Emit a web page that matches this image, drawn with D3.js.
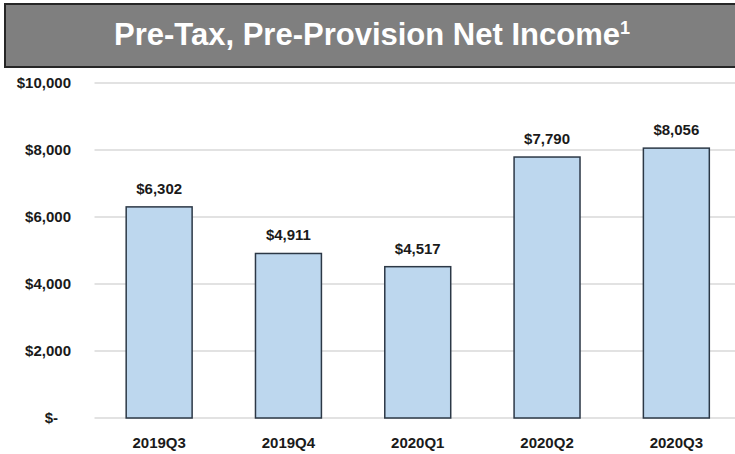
<!DOCTYPE html>
<html>
<head>
<meta charset="utf-8">
<script src="https://cdn.jsdelivr.net/npm/d3@7"></script>
<style>
  body { margin: 0; background: #fff; }
  svg { display: block; font-family: 'Liberation Sans', Arial, sans-serif; }
  .title { fill: #fff; font-size: 31px; font-weight: bold; }
  .tick-text { fill: #1a1a1a; font-size: 15px; font-weight: bold; }
  .value-text { fill: #1a1a1a; font-size: 15px; font-weight: bold; }
  .cat-text { fill: #1a1a1a; font-size: 15px; font-weight: bold; }
  .grid-line { stroke: #d9d9d9; stroke-width: 1.5; }
  .bar { fill: #bdd7ee; stroke: #2c3846; stroke-width: 1.5; }
</style>
</head>
<body>
<svg id="chart"></svg>
<script>
'use strict';

//data
const quarters = ['2019Q3', '2019Q4', '2020Q1', '2020Q2', '2020Q3'];
const income = [6302, 4911, 4517, 7790, 8056];
const yTicks = [0, 2000, 4000, 6000, 8000, 10000];

(() => {

  //dimensions
  const w = 735;
  const h = 454;
  const plot = { left: 94.5, right: 741, top: 83, bottom: 418 };

  const svg = d3.select('#chart')
    .attr('width', w)
    .attr('height', h);

  //title banner
  svg.append('rect')
    .attr('x', 5)
    .attr('y', 4)
    .attr('width', w + 10)
    .attr('height', 63)
    .attr('fill', '#7f7f7f')
    .attr('stroke', '#262626')
    .attr('stroke-width', 2);
  const title = svg.append('text')
    .attr('x', 372)
    .attr('y', 45)
    .attr('text-anchor', 'middle')
    .attr('class', 'title');
  title.append('tspan').text('Pre-Tax, Pre-Provision Net Income');
  title.append('tspan')
    .attr('dy', -11)
    .attr('font-size', '18px')
    .text('1');

  //scales
  const x = d3.scaleBand()
    .domain(quarters)
    .range([plot.left, plot.right])
    .paddingInner(0.49)
    .paddingOuter(0.245);
  const y = d3.scaleLinear()
    .domain([0, 10000])
    .range([plot.bottom, plot.top]);

  const money = (v) => v === 0 ? '$-' : '$' + d3.format(',')(v);

  //gridlines + y labels
  svg.append('g')
    .selectAll('line')
    .data(yTicks)
    .join('line')
    .attr('x1', plot.left)
    .attr('x2', w)
    .attr('y1', (d) => y(d))
    .attr('y2', (d) => y(d))
    .attr('class', 'grid-line');
  svg.append('g')
    .selectAll('text')
    .data(yTicks)
    .join('text')
    .attr('x', (d) => d === 0 ? 58 : 71)
    .attr('y', (d) => y(d))
    .attr('dy', '0.36em')
    .attr('text-anchor', 'end')
    .text(money)
    .attr('class', 'tick-text');

  //bars
  const bars = svg.append('g')
    .selectAll('g')
    .data(quarters.map((q, i) => ({ q, v: income[i] })))
    .join('g');
  bars.append('rect')
    .attr('x', (d) => x(d.q))
    .attr('y', (d) => y(d.v))
    .attr('width', x.bandwidth())
    .attr('height', (d) => y(0) - y(d.v))
    .attr('class', 'bar');
  bars.append('text')
    .attr('x', (d) => x(d.q) + x.bandwidth() / 2)
    .attr('y', (d) => y(d.v) - 13)
    .attr('text-anchor', 'middle')
    .text((d) => money(d.v))
    .attr('class', 'value-text');
  bars.append('text')
    .attr('x', (d) => x(d.q) + x.bandwidth() / 2)
    .attr('y', 448)
    .attr('text-anchor', 'middle')
    .text((d) => d.q)
    .attr('class', 'cat-text');

})();
</script>
</body>
</html>
